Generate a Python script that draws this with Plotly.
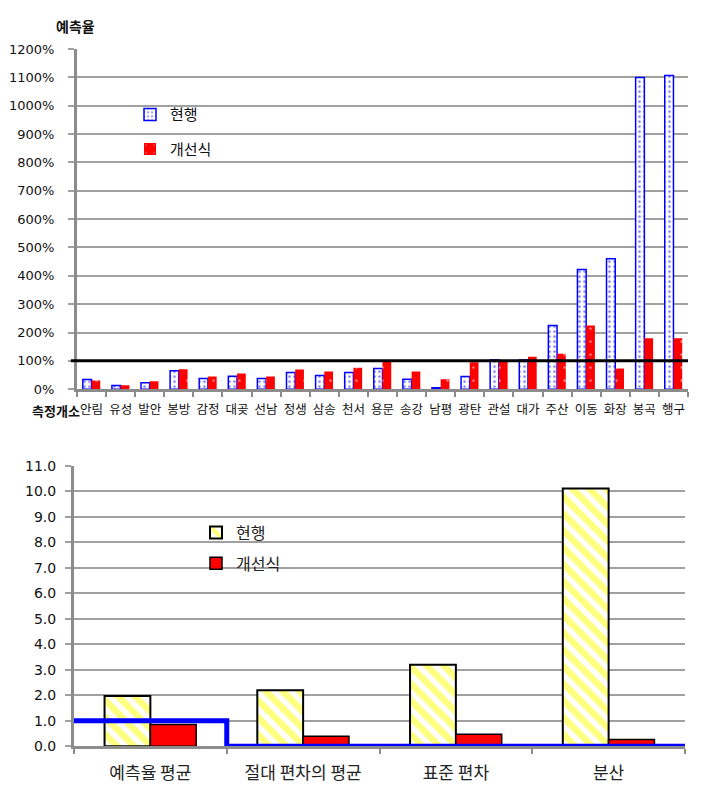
import plotly.graph_objects as go

# ---------------- data ----------------
sites = ["안림", "유성", "발안", "봉방", "감정", "대곶", "선남", "정생", "삼송", "천서", "용문",
         "송강", "남평", "광탄", "관설", "대가", "주산", "이동", "화장", "봉곡", "행구"]
current_pct = [34, 13, 23, 65, 38, 46, 38, 59, 48, 59, 73,
               35, 5, 45, 103, 103, 225, 422, 460, 1100, 1107]
improved_pct = [31, 14, 28, 70, 45, 55, 45, 69, 62, 76, 97,
                62, 35, 95, 103, 114, 125, 225, 73, 180, 180]
y_ticks_top = list(range(0, 1300, 100))

stats = ["예측율 평균", "절대 편차의 평균", "표준 편차", "분산"]
current_stats = [1.97, 2.2, 3.2, 10.1]
improved_stats = [0.86, 0.4, 0.47, 0.27]
ideal_stats = [1, 0, 0, 0]
y_ticks_bot = [i * 1.0 for i in range(0, 12)]

series_names = ["현행", "개선식"]

# ---------------- layout helpers ----------------
W, H = 716, 795
def px_x(v): return v / W
def px_y(v): return 1 - v / H

GRID = "#a0a0a0"
AXIS = "#8c8c8c"
KR = "Noto Sans CJK KR"

fig = go.Figure()

# ---- top chart ----
fig.add_trace(go.Bar(
    x=sites, y=current_pct, name=series_names[0], xaxis="x", yaxis="y", legend="legend",
    legendgroup="t1",
    marker=dict(color="white", line=dict(color="#0000ff", width=1.5),
                pattern=dict(shape=".", fgcolor="#0000ff", bgcolor="white", size=5, solidity=0.2)),
))
fig.add_trace(go.Bar(
    x=sites, y=improved_pct, name=series_names[1], xaxis="x", yaxis="y", legend="legend",
    legendgroup="t2",
    marker=dict(color="#ff0000", line=dict(color="#ff0000", width=0),
                pattern=dict(shape=".", fgcolor="white", bgcolor="#ff0000", size=13, solidity=0.03)),
))

# ---- bottom chart ----
xs = list(range(len(stats)))
fig.add_trace(go.Bar(
    x=xs, y=current_stats, name=series_names[0], xaxis="x2", yaxis="y2", legend="legend2",
    legendgroup="b1",
    marker=dict(color="white", line=dict(color="black", width=2),
                pattern=dict(shape="\\", fgcolor="#ffff00", bgcolor="white", size=12, solidity=0.55)),
))
fig.add_trace(go.Bar(
    x=xs, y=improved_stats, name=series_names[1], xaxis="x2", yaxis="y2", legend="legend2",
    legendgroup="b2",
    marker=dict(color="#ff0000", line=dict(color="black", width=1.5)),
))
edges = [i - 0.5 for i in range(len(stats) + 1)]
fig.add_trace(go.Scatter(
    x=edges, y=ideal_stats + [ideal_stats[-1]], mode="lines", line_shape="hv",
    line=dict(color="#0000ff", width=5), xaxis="x2", yaxis="y2",
    showlegend=False, cliponaxis=False, hoverinfo="skip",
))

fig.update_layout(
    width=W, height=H, margin=dict(l=0, r=0, t=0, b=0),
    paper_bgcolor="white", plot_bgcolor="white",
    barmode="group", bargap=0.4, bargroupgap=0,
    font=dict(family=KR, color="#111"),
    xaxis=dict(domain=[px_x(77), px_x(688)], anchor="y", type="category",
               showline=True, linecolor=AXIS, linewidth=3,
               ticks="outside", tickson="boundaries", ticklen=5, tickcolor=AXIS, tickwidth=1.5,
               tickangle=0, ticklabelstandoff=7,
               tickfont=dict(family=KR, size=12.5, color="#111"), showgrid=False),
    yaxis=dict(domain=[px_y(389), px_y(42)], anchor="x", range=[0, 1200],
               tickvals=y_ticks_top, ticktext=[f"{v}%" for v in y_ticks_top],
               showline=True, linecolor=AXIS, linewidth=3,
               ticks="outside", ticklen=6, tickcolor=GRID, tickwidth=2, ticklabelstandoff=11,
               gridcolor=GRID, gridwidth=2, zeroline=False,
               tickfont=dict(family="DejaVu Sans", size=13, color="#111")),
    xaxis2=dict(domain=[px_x(74), px_x(685)], anchor="y2", range=[-0.5, len(stats) - 0.5],
                tickvals=xs, ticktext=stats, ticks="", showgrid=False, zeroline=False,
                showline=True, linecolor=AXIS, linewidth=3, ticklabelstandoff=9,
                minor=dict(ticks="outside", tick0=-0.5, dtick=1, ticklen=5, tickcolor=AXIS, tickwidth=1.5),
                tickfont=dict(family=KR, size=17, color="#222")),
    yaxis2=dict(domain=[px_y(753.5), px_y(467)], anchor="x2", range=[0, 11],
                tickvals=y_ticks_bot, ticktext=[f"{v:.1f}" for v in y_ticks_bot],
                showline=True, linecolor=AXIS, linewidth=3,
                ticks="outside", ticklen=6, tickcolor=GRID, tickwidth=2, ticklabelstandoff=6,
                gridcolor=GRID, gridwidth=2, zeroline=False,
                tickfont=dict(family="DejaVu Sans", size=14, color="#111")),
    legend=dict(x=px_x(130), y=px_y(92), xanchor="left", yanchor="top",
                bgcolor="rgba(0,0,0,0)", font=dict(family=KR, size=15, color="#111"),
                tracegroupgap=12, traceorder="grouped"),
    legend2=dict(x=px_x(196), y=px_y(518), xanchor="left", yanchor="top",
                 bgcolor="rgba(0,0,0,0)", font=dict(family=KR, size=16, color="#222"),
                 tracegroupgap=7, traceorder="grouped"),
    shapes=[dict(type="line", xref="x domain", yref="y", x0=-0.01, x1=1, y0=100, y1=100,
                 line=dict(color="black", width=3), layer="above")],
    annotations=[
        dict(text="<b>예측율</b>", xref="paper", yref="paper", x=px_x(75), y=px_y(18),
             showarrow=False, font=dict(family=KR, size=14, color="#111"), xanchor="center", yanchor="middle"),
        dict(text="<b>측정개소</b>", xref="paper", yref="paper", x=px_x(56), y=px_y(411),
             showarrow=False, font=dict(family=KR, size=13, color="#111"), xanchor="center", yanchor="middle"),
    ],
)

fig.write_html("out.html")
